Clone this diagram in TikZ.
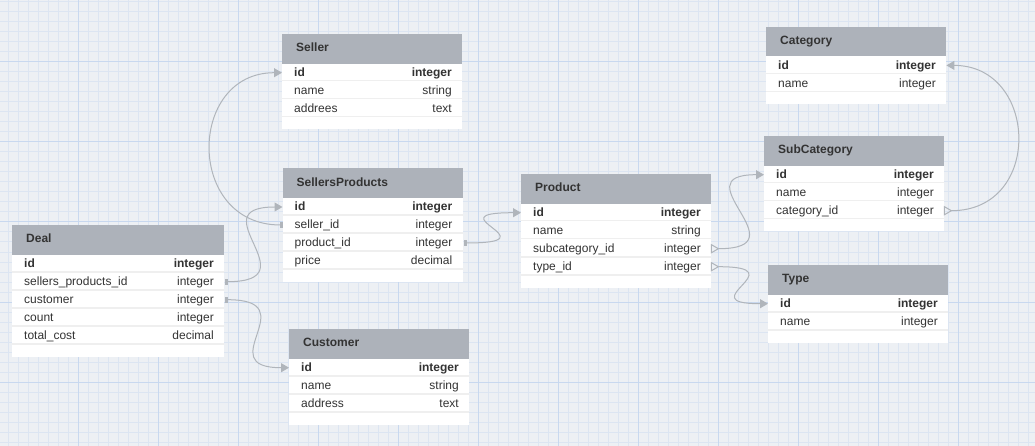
\documentclass[tikz,border=0pt]{standalone}
\usepackage{fontspec}
\setmainfont{Liberation Sans}
\usetikzlibrary{arrows.meta,calc}
\definecolor{bg}{HTML}{EDF0F4}
\definecolor{gridminor}{HTML}{DCE5F2}
\definecolor{gridmajor}{HTML}{C8D8EF}
\definecolor{hdrfill}{HTML}{ADB2BA}
\definecolor{txt}{HTML}{333333}
\definecolor{sepcol}{HTML}{EFEFEF}
\definecolor{conncol}{HTML}{B0B5BB}
\tikzset{
  hdr/.style={fill=hdrfill, text=txt, anchor=north west, inner xsep=14pt, inner ysep=0pt,
    minimum height=29.5pt, align=left, text height=9pt, text depth=3pt,
    font=\bfseries\fontsize{12}{14}\selectfont},
  rowbox/.style={anchor=north west, inner sep=0pt, minimum height=18pt, fill=white},
  lbl/.style={inner sep=0pt, text=txt, font=\fontsize{12}{14}\selectfont},
  sepline/.style={draw=sepcol, line width=1.6pt},
  conn/.style={draw=conncol, line width=1pt},
  tipped/.style={-{Triangle[length=8pt,width=9pt]}, fill=none},
  dotmark/.style={fill=conncol},
  manymark/.style={draw=conncol, line width=1pt, line join=miter}
}
\newcommand\erdtable[7]{%
  \pgfmathsetmacro\erdhb{#3+29.5}%
  \pgfmathsetmacro\erdtw{#4-28}%
  \pgfmathsetmacro\erdbot{\erdhb+18*#6+12}%
  \fill[white] (#2,\erdhb) rectangle (#2+#4,\erdbot);
  \node[hdr, minimum width=#4pt, text width=\erdtw pt] (#1) at (#2,#3) {#5};
  \foreach [count=\i] \n/\l/\t in {#7} {
    \pgfmathsetmacro\yy{\erdhb+18*(\i-1)}
    \node[rowbox, minimum width=#4pt] (#1-\n) at (#2,\yy) {};
    \draw[sepline] (#2,\yy+17.2) -- ++(#4,0);
    \node[lbl, anchor=base west] (#1-\n-l) at (#2+12,\yy+13) {\ifnum\i=1 \bfseries\fi\l};
    \node[lbl, anchor=base east] (#1-\n-t) at (#2+#4-10,\yy+13) {\ifnum\i=1 \bfseries\fi\t};
  }
}
\begin{document}
\begin{tikzpicture}[x=1pt,y=-1pt]
\useasboundingbox (0,0) rectangle (1035,446);
\fill[bg] (0,0) rectangle (1035,446);
\foreach \x in {8,18,...,1030} \draw[gridminor, line width=1pt] (\x,0) -- (\x,446);
\foreach \y in {2,12,...,445} \draw[gridminor, line width=1pt] (0,\y) -- (1035,\y);
\foreach \x in {78,158,...,1030} \draw[gridmajor, line width=1pt] (\x,0) -- (\x,446);
\foreach \y in {62,142,...,445} \draw[gridmajor, line width=1pt] (0,\y) -- (1035,\y);

\erdtable{seller}{282}{34}{180}{Seller}{3}{id/id/integer, name/name/string, addr/addrees/text}
\erdtable{sp}{282.5}{168.3}{180}{SellersProducts}{4}{id/id/integer, sellerid/seller\_id/integer, productid/product\_id/integer, price/price/decimal}
\erdtable{deal}{12}{225}{212}{Deal}{5}{id/id/integer, spid/sellers\_products\_id/integer, customer/customer/integer, count/count/integer, total/total\_cost/decimal}
\erdtable{cust}{289}{329}{180}{Customer}{3}{id/id/integer, name/name/string, addr/address/text}
\erdtable{prod}{521}{174}{190}{Product}{4}{id/id/integer, name/name/string, subcat/subcategory\_id/integer, type/type\_id/integer}
\erdtable{cat}{766}{26.7}{180}{Category}{2}{id/id/integer, name/name/integer}
\erdtable{subcat}{764}{136}{180}{SubCategory}{3}{id/id/integer, name/name/integer, catid/category\_id/integer}
\erdtable{type}{768}{265}{180}{Type}{2}{id/id/integer, name/name/integer}

% source markers (one side)
\fill[dotmark] ($(sp-sellerid.west)+(-3,-3)$) rectangle ($(sp-sellerid.west)+(0,3)$);
\fill[dotmark] ($(deal-spid.east)+(1,-3)$) rectangle ($(deal-spid.east)+(4,3)$);
\fill[dotmark] ($(deal-customer.east)+(1,-3)$) rectangle ($(deal-customer.east)+(4,3)$);
\fill[dotmark] ($(sp-productid.east)+(1,-3)$) rectangle ($(sp-productid.east)+(4,3)$);
\coordinate (c1) at ($(sp-sellerid.west)+(-2,0)$);
\coordinate (c2) at ($(deal-spid.east)+(3,0)$);
\coordinate (c3) at ($(deal-customer.east)+(3,0)$);
\coordinate (c4) at ($(sp-productid.east)+(3,0)$);
% source markers (many side)
\coordinate (c5) at ($(prod-subcat.east)+(7,0)$);
\coordinate (c6) at ($(prod-type.east)+(7,0)$);
\coordinate (c7) at ($(subcat-catid.east)+(7,0)$);
\draw[manymark] ($(prod-subcat.east)+(0,-4)$) -- (c5) -- ($(prod-subcat.east)+(0,4)$) -- cycle;
\draw[manymark] ($(prod-type.east)+(0,-4)$) -- (c6) -- ($(prod-type.east)+(0,4)$) -- cycle;
\draw[manymark] ($(subcat-catid.east)+(0,-4)$) -- (c7) -- ($(subcat-catid.east)+(0,4)$) -- cycle;

% connectors
\draw[conn, tipped] (c1) .. controls +(-95,0) and +(-95,0) .. (seller-id.west);
\draw[conn, tipped] (c2) .. controls +(85,0) and +(-85,0) .. (sp-id.west);
\draw[conn, tipped] (c3) .. controls +(80,0) and +(-80,0) .. (cust-id.west);
\draw[conn, tipped] (c4) .. controls +(90,0) and +(-90,0) .. (prod-id.west);
\draw[conn, tipped] (c5) .. controls +(85,0) and +(-85,0) .. (subcat-id.west);
\draw[conn, tipped] (c6) .. controls +(80,0) and +(-80,0) .. (type-id.west);
\draw[conn, tipped] (c7) .. controls +(92,0) and +(92,0) .. (cat-id.east);
\end{tikzpicture}
\end{document}
